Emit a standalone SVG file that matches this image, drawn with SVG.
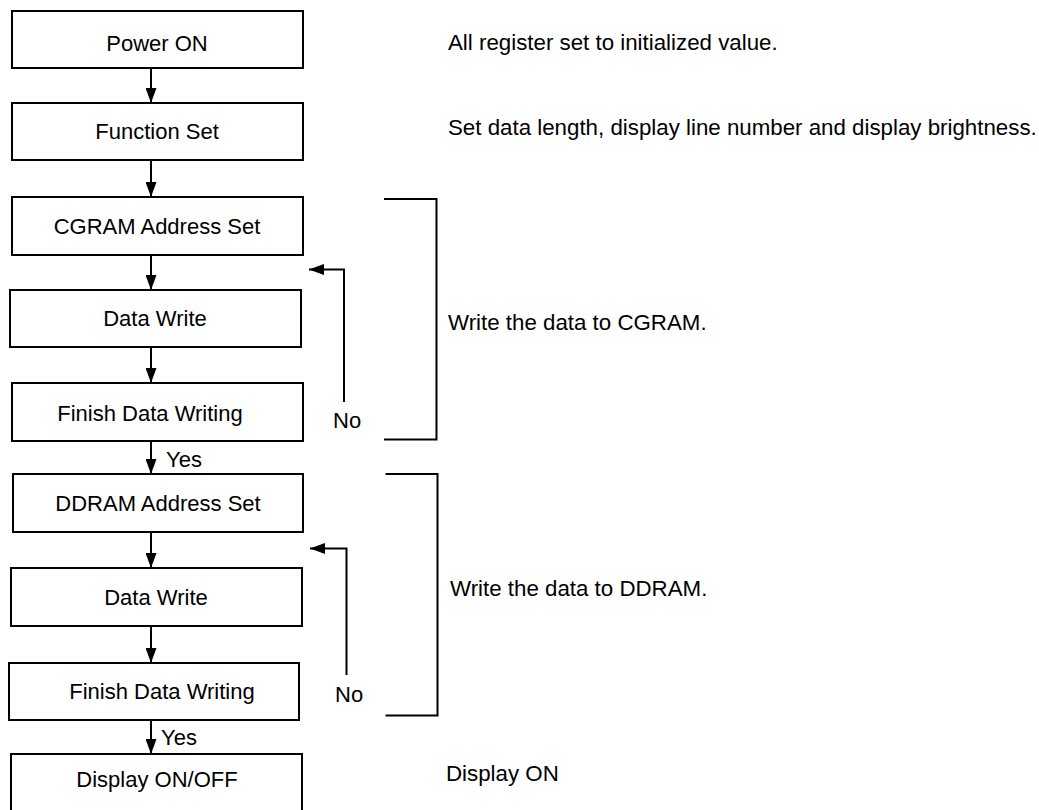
<svg xmlns="http://www.w3.org/2000/svg" width="1039" height="810" viewBox="0 0 1039 810">
<style>
.box{fill:#fff;stroke:#000;stroke-width:2}
.t{font-family:"Liberation Sans",Arial,sans-serif;font-size:22px;fill:#000}
.n{font-size:22.3px}
.c{text-anchor:middle}
.ln{fill:none;stroke:#000;stroke-width:2}
</style>
<defs>
<marker id="a" viewBox="0 0 15 11" refX="15" refY="5.5" markerWidth="15" markerHeight="11" orient="auto" markerUnits="userSpaceOnUse">
<path d="M0,0 L15,5.5 L0,11 Z" fill="#000"/>
</marker>
</defs>
<rect width="1039" height="810" fill="#fff"/>
<g id="connectors">
<line class="ln" x1="151" y1="68" x2="151" y2="103" marker-end="url(#a)"/>
<line class="ln" x1="151" y1="160" x2="151" y2="197" marker-end="url(#a)"/>
<line class="ln" x1="151" y1="255" x2="151" y2="290" marker-end="url(#a)"/>
<line class="ln" x1="151" y1="347" x2="151" y2="383" marker-end="url(#a)"/>
<line class="ln" x1="151" y1="441" x2="151" y2="474" marker-end="url(#a)"/>
<line class="ln" x1="151" y1="532" x2="151" y2="568" marker-end="url(#a)"/>
<line class="ln" x1="151" y1="626" x2="151" y2="663" marker-end="url(#a)"/>
<line class="ln" x1="151" y1="720" x2="151" y2="754" marker-end="url(#a)"/>
<path class="ln" d="M344,402 V269.5 H309" marker-end="url(#a)"/>
<path class="ln" d="M346.5,675 V548.5 H310" marker-end="url(#a)"/>
<path class="ln" d="M384,199 H436.5 V439.5 H384"/>
<path class="ln" d="M385.5,474 H437.5 V715.5 H385.5"/>
<text class="t" x="333" y="428">No</text>
<text class="t" x="335" y="702">No</text>
<text class="t" x="166" y="467">Yes</text>
<text class="t" x="161" y="745">Yes</text>
</g>
<g id="n1"><rect class="box" x="12" y="11" width="291" height="57"/><text class="t c" x="157" y="51">Power ON</text></g>
<g id="n2"><rect class="box" x="12" y="103" width="291" height="57"/><text class="t c" x="157" y="139">Function Set</text></g>
<g id="n3"><rect class="box" x="12" y="197" width="291" height="58"/><text class="t c" x="157" y="234">CGRAM Address Set</text></g>
<g id="n4"><rect class="box" x="10" y="290" width="291" height="57"/><text class="t c" x="155" y="326">Data Write</text></g>
<g id="n5"><rect class="box" x="12" y="383" width="291" height="58"/><text class="t c" x="150" y="421">Finish Data Writing</text></g>
<g id="n6"><rect class="box" x="13" y="474" width="290" height="58"/><text class="t c" x="158" y="511">DDRAM Address Set</text></g>
<g id="n7"><rect class="box" x="11" y="568" width="291" height="58"/><text class="t c" x="156" y="605">Data Write</text></g>
<g id="n8"><rect class="box" x="9" y="663" width="290" height="57"/><text class="t c" x="162" y="699">Finish Data Writing</text></g>
<g id="n9"><rect class="box" x="11" y="754" width="291" height="60"/><text class="t c" x="157" y="787">Display ON/OFF</text></g>
<g id="notes">
<text class="t n" x="448" y="50">All register set to initialized value.</text>
<text class="t n" x="448" y="135">Set data length, display line number and display brightness.</text>
<text class="t n" x="448" y="330">Write the data to CGRAM.</text>
<text class="t n" x="450" y="596">Write the data to DDRAM.</text>
<text class="t n" x="446" y="781">Display ON</text>
</g>
</svg>
